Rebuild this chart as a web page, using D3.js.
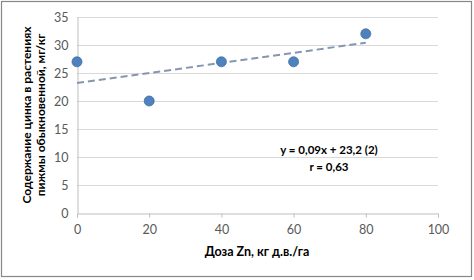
<!DOCTYPE html>
<html><head><meta charset="utf-8">
<script src="https://cdn.jsdelivr.net/npm/d3@7"></script>
<style>body{margin:0;background:#fff}svg{display:block}</style>
</head><body><svg id="c" width="474" height="280"></svg>
<script>
const doses = [0, 20, 40, 60, 80];
const zinc = [27, 20, 27, 27, 32];
const xTicks = [0, 20, 40, 60, 80, 100];
const yTicks = [0, 5, 10, 15, 20, 25, 30, 35];
const trendSlope = 0.09, trendIntercept = 23.2;
const eqLabel = "y = 0,09x + 23,2 (2)";
const rLabel = "r = 0,63";
const xTitle = "Доза Zn, кг д.в./га";
const yTitle = ["Содержание цинка в растениях", "пижмы обыкновенной, мг/кг"];

const svg = d3.select("#c");
const font = "Lato, 'Open Sans', sans-serif";
svg.append("rect").attr("x",1.5).attr("y",1.5).attr("width",470).attr("height",275)
  .attr("fill","#fff").attr("stroke","#878787").attr("stroke-width",1.2);

const x = d3.scaleLinear().domain([0,100]).range([77,438]);
const y = d3.scaleLinear().domain([0,35]).range([213,17]);

const g = svg.append("g");
g.selectAll("line.grid").data(yTicks.filter(d=>d>0)).join("line")
  .attr("x1",x(0)).attr("x2",x(100)).attr("y1",d=>Math.round(y(d))+0.5).attr("y2",d=>Math.round(y(d))+0.5)
  .attr("stroke","#d9d9d9").attr("stroke-width",1);

// axes
const xa = svg.append("g").attr("transform",`translate(0,${Math.round(y(0))+0.5})`)
  .call(d3.axisBottom(x).tickValues(xTicks).tickSize(4).tickPadding(8));
xa.select(".domain").attr("stroke","#bfbfbf");
xa.selectAll(".tick line").attr("stroke","#bfbfbf");
xa.selectAll("text").attr("fill","#595959").attr("font-size",12.5).attr("font-family",font);

const ya = svg.append("g").attr("transform",`translate(${Math.round(x(0))+0.5},0)`)
  .call(d3.axisLeft(y).tickValues(yTicks).tickSize(0).tickPadding(9));
ya.select(".domain").attr("stroke","#bfbfbf");
ya.selectAll("text").attr("fill","#595959").attr("font-size",12.5).attr("font-family",font);

// trend line
svg.append("line")
  .attr("x1",x(0)).attr("y1",y(trendIntercept))
  .attr("x2",x(80)).attr("y2",y(trendIntercept+trendSlope*80))
  .attr("stroke","#8497b0").attr("stroke-width",2).attr("stroke-dasharray","7,4");

// points
svg.selectAll("circle").data(doses.map((d,i)=>[d,zinc[i]])).join("circle")
  .attr("cx",d=>x(d[0])).attr("cy",d=>y(d[1])).attr("r",5)
  .attr("fill","#4f81bd").attr("stroke","#3c6ea8").attr("stroke-width",0.8);

// annotations
svg.append("text").attr("x",329).attr("y",154).attr("text-anchor","middle")
  .attr("font-family",font).attr("font-weight","bold").attr("font-size",11.5).attr("fill","#000").text(eqLabel);
svg.append("text").attr("x",329).attr("y",171).attr("text-anchor","middle")
  .attr("font-family",font).attr("font-weight","bold").attr("font-size",11.5).attr("fill","#000").text(rLabel);

svg.append("text").attr("x",257).attr("y",256).attr("text-anchor","middle")
  .attr("font-family",font).attr("font-weight","bold").attr("font-size",12.5).attr("fill","#000").text(xTitle);

const yt = svg.append("text").attr("transform","translate(0,115) rotate(-90)")
  .attr("text-anchor","middle").attr("font-family",font).attr("font-weight","bold")
  .attr("font-size",12).attr("fill","#000");
yt.append("tspan").attr("x",0).attr("y",31).text(yTitle[0]);
yt.append("tspan").attr("x",0).attr("y",44.5).text(yTitle[1]);
</script></body></html>
